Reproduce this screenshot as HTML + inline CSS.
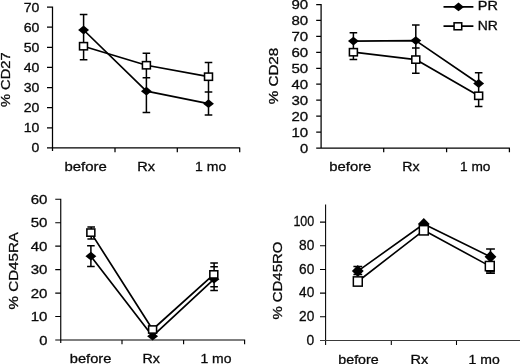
<!DOCTYPE html><html><head><meta charset="utf-8"><title>chart</title><style>html,body{margin:0;padding:0;background:#fff;overflow:hidden}svg{display:block;filter:grayscale(1)}text{font-family:"Liberation Sans",Arial,sans-serif;fill:#0a0a0a;stroke:#0a0a0a;stroke-width:0.3px}</style></head><body>
<svg width="520" height="364" viewBox="0 0 520 364">
<rect width="520" height="364" fill="#fff"/>
<path d="M52.5,6.509999999999986V150.95M52.5,147.95H240.2M47.00,147.95H52.5M47.00,127.83H52.5M47.00,107.71H52.5M47.00,87.59H52.5M47.00,67.47H52.5M47.00,47.35H52.5M47.00,27.23H52.5M47.00,7.11H52.5M115.00,147.95V152.25M177.30,147.95V152.25M239.70,147.95V152.25" stroke="#000" stroke-width="1.25" fill="none"/>
<text transform="translate(31.60,152.35) scale(1.0875,1)" font-size="12.9">0</text>
<text transform="translate(23.75,132.23) scale(1.0910,1)" font-size="12.9">10</text>
<text transform="translate(23.75,112.11) scale(1.0910,1)" font-size="12.9">20</text>
<text transform="translate(23.75,91.99) scale(1.0910,1)" font-size="12.9">30</text>
<text transform="translate(23.75,71.87) scale(1.0910,1)" font-size="12.9">40</text>
<text transform="translate(23.75,51.75) scale(1.0910,1)" font-size="12.9">50</text>
<text transform="translate(23.75,31.63) scale(1.0910,1)" font-size="12.9">60</text>
<text transform="translate(23.75,11.51) scale(1.0910,1)" font-size="12.9">70</text>
<text transform="translate(64.40,171.10) scale(1.1505,1)" font-size="13">before</text>
<text transform="translate(137.30,171.10) scale(1.1142,1)" font-size="13">Rx</text>
<text transform="translate(195.00,171.10) scale(1.0796,1)" font-size="13">1 mo</text>
<text transform="translate(10.20,107.00) rotate(-90) scale(1.0800,1)" font-size="13.6">% CD27</text>
<polyline fill="none" stroke="#000" stroke-width="1.7" stroke-linejoin="round" points="83.60,30.00 146.40,91.20 208.50,103.70"/>
<polyline fill="none" stroke="#000" stroke-width="1.7" stroke-linejoin="round" points="83.50,46.20 146.40,65.25 208.50,76.70"/>
<path d="M83.60,14.60V59.75M79.80,14.60H87.40M79.80,59.75H87.40" stroke="#000" stroke-width="1.5" fill="none"/>
<path d="M146.40,53.20V112.50M142.60,53.20H150.20M142.60,77.80H150.20M142.60,112.50H150.20" stroke="#000" stroke-width="1.5" fill="none"/>
<path d="M208.50,62.40V115.10M204.70,62.40H212.30M204.70,92.00H212.30M204.70,115.10H212.30" stroke="#000" stroke-width="1.5" fill="none"/>
<path d="M78.15,30.00L83.60,25.60L89.05,30.00L83.60,34.40Z" fill="#000"/>
<path d="M140.95,91.20L146.40,86.80L151.85,91.20L146.40,95.60Z" fill="#000"/>
<path d="M203.05,103.70L208.50,99.30L213.95,103.70L208.50,108.10Z" fill="#000"/>
<rect x="79.53" y="42.58" width="7.95" height="7.25" fill="#fff" stroke="#000" stroke-width="1.55"/>
<rect x="142.43" y="61.62" width="7.95" height="7.25" fill="#fff" stroke="#000" stroke-width="1.55"/>
<rect x="204.53" y="73.08" width="7.95" height="7.25" fill="#fff" stroke="#000" stroke-width="1.55"/>
<path d="M321.1,3.939999999999992V148.0M321.1,148.0H509.9M316.20,148.00H321.1M316.20,132.06H321.1M316.20,116.12H321.1M316.20,100.18H321.1M316.20,84.24H321.1M316.20,68.30H321.1M316.20,52.36H321.1M316.20,36.42H321.1M316.20,20.48H321.1M316.20,4.54H321.1M383.70,148.0V152.3M446.60,148.0V152.3M509.40,148.0V152.3" stroke="#000" stroke-width="1.25" fill="none"/>
<text transform="translate(300.00,152.50) scale(1.1433,1)" font-size="12.9">0</text>
<text transform="translate(291.50,136.56) scale(1.1642,1)" font-size="12.9">10</text>
<text transform="translate(291.50,120.62) scale(1.1642,1)" font-size="12.9">20</text>
<text transform="translate(291.50,104.68) scale(1.1642,1)" font-size="12.9">30</text>
<text transform="translate(291.50,88.74) scale(1.1642,1)" font-size="12.9">40</text>
<text transform="translate(291.50,72.80) scale(1.1642,1)" font-size="12.9">50</text>
<text transform="translate(291.50,56.86) scale(1.1642,1)" font-size="12.9">60</text>
<text transform="translate(291.50,40.92) scale(1.1642,1)" font-size="12.9">70</text>
<text transform="translate(291.50,24.98) scale(1.1642,1)" font-size="12.9">80</text>
<text transform="translate(291.50,9.04) scale(1.1642,1)" font-size="12.9">90</text>
<text transform="translate(329.30,171.00) scale(1.1423,1)" font-size="13">before</text>
<text transform="translate(402.20,171.00) scale(1.0890,1)" font-size="13">Rx</text>
<text transform="translate(460.00,171.00) scale(1.0554,1)" font-size="13">1 mo</text>
<text transform="translate(277.70,104.30) rotate(-90) scale(1.1176,1)" font-size="13.6">% CD28</text>
<polyline fill="none" stroke="#000" stroke-width="1.7" stroke-linejoin="round" points="353.40,41.10 415.80,40.60 478.65,83.50"/>
<polyline fill="none" stroke="#000" stroke-width="1.7" stroke-linejoin="round" points="353.40,52.20 415.80,59.60 478.65,95.80"/>
<path d="M353.40,32.70V59.60M349.60,32.70H357.20M349.60,59.60H357.20" stroke="#000" stroke-width="1.5" fill="none"/>
<path d="M415.80,25.00V73.30M412.00,25.00H419.60M412.00,48.10H419.60M412.00,73.30H419.60" stroke="#000" stroke-width="1.5" fill="none"/>
<path d="M478.65,72.70V106.50M474.85,72.70H482.45M474.85,106.50H482.45" stroke="#000" stroke-width="1.5" fill="none"/>
<path d="M347.95,41.10L353.40,36.70L358.85,41.10L353.40,45.50Z" fill="#000"/>
<path d="M410.35,40.60L415.80,36.20L421.25,40.60L415.80,45.00Z" fill="#000"/>
<path d="M473.20,83.50L478.65,79.10L484.10,83.50L478.65,87.90Z" fill="#000"/>
<rect x="349.42" y="48.58" width="7.95" height="7.25" fill="#fff" stroke="#000" stroke-width="1.55"/>
<rect x="411.82" y="55.98" width="7.95" height="7.25" fill="#fff" stroke="#000" stroke-width="1.55"/>
<rect x="474.67" y="92.17" width="7.95" height="7.25" fill="#fff" stroke="#000" stroke-width="1.55"/>
<path d="M443.5,6.9H473.4M443.5,26.2H473.4" stroke="#000" stroke-width="1.7"/>
<path d="M453.05,6.90L458.50,2.50L463.95,6.90L458.50,11.30Z" fill="#000"/>
<rect x="454.07" y="22.82" width="7.65" height="6.95" fill="#fff" stroke="#000" stroke-width="1.55"/>
<text transform="translate(477.80,10.15) scale(1.1765,1)" font-size="12.3">PR</text>
<text transform="translate(477.80,30.20) scale(1.1317,1)" font-size="12.3">NR</text>
<path d="M60.75,198.64000000000001V343.0M60.75,340.0H245.2M55.25,340.00H60.75M55.25,316.54H60.75M55.25,293.08H60.75M55.25,269.62H60.75M55.25,246.16H60.75M55.25,222.70H60.75M55.25,199.24H60.75M122.00,340.0V344.3M183.60,340.0V344.3M244.60,340.0V344.3" stroke="#000" stroke-width="1.15" fill="none"/>
<text transform="translate(39.20,344.50) scale(1.1433,1)" font-size="12.9">0</text>
<text transform="translate(30.70,321.04) scale(1.1642,1)" font-size="12.9">10</text>
<text transform="translate(30.70,297.58) scale(1.1642,1)" font-size="12.9">20</text>
<text transform="translate(30.70,274.12) scale(1.1642,1)" font-size="12.9">30</text>
<text transform="translate(30.70,250.66) scale(1.1642,1)" font-size="12.9">40</text>
<text transform="translate(30.70,227.20) scale(1.1642,1)" font-size="12.9">50</text>
<text transform="translate(30.70,203.74) scale(1.1642,1)" font-size="12.9">60</text>
<text transform="translate(69.80,363.30) scale(1.1260,1)" font-size="13">before</text>
<text transform="translate(142.50,363.30) scale(1.0953,1)" font-size="13">Rx</text>
<text transform="translate(200.40,363.30) scale(1.0762,1)" font-size="13">1 mo</text>
<text transform="translate(17.80,309.40) rotate(-90) scale(1.1131,1)" font-size="13.6">% CD45RA</text>
<polyline fill="none" stroke="#000" stroke-width="1.7" stroke-linejoin="round" points="90.90,256.20 152.60,336.20 214.00,279.20"/>
<polyline fill="none" stroke="#000" stroke-width="1.7" stroke-linejoin="round" points="90.85,232.60 152.60,329.50 213.80,274.40"/>
<path d="M91.20,226.90V238.90M87.40,226.90H95.00M87.40,238.90H95.00" stroke="#000" stroke-width="1.5" fill="none"/>
<path d="M90.90,245.80V266.40M87.10,245.80H94.70M87.10,266.40H94.70" stroke="#000" stroke-width="1.5" fill="none"/>
<path d="M214.10,263.00V290.50M210.30,263.00H217.90M210.30,266.75H217.90M210.30,286.80H217.90M210.30,290.50H217.90" stroke="#000" stroke-width="1.5" fill="none"/>
<path d="M85.45,256.20L90.90,251.80L96.35,256.20L90.90,260.60Z" fill="#000"/>
<path d="M147.15,336.20L152.60,331.80L158.05,336.20L152.60,340.60Z" fill="#000"/>
<path d="M208.55,279.20L214.00,274.80L219.45,279.20L214.00,283.60Z" fill="#000"/>
<rect x="86.88" y="228.97" width="7.95" height="7.25" fill="#fff" stroke="#000" stroke-width="1.55"/>
<rect x="148.62" y="325.88" width="7.95" height="7.25" fill="#fff" stroke="#000" stroke-width="1.55"/>
<rect x="209.83" y="270.77" width="7.95" height="7.25" fill="#fff" stroke="#000" stroke-width="1.55"/>
<path d="M325.6,204.5V344.9M320.00,340.50H325.6M320.00,316.82H325.6M320.00,293.14H325.6M320.00,269.46H325.6M320.00,245.78H325.6M320.00,222.10H325.6M391.30,340.5V344.9M456.50,340.5V344.9" stroke="#000" stroke-width="1.05" fill="none"/>
<path d="M320,340.5H521" stroke="#3a3a3a" stroke-width="1.0" fill="none"/>
<text transform="translate(306.60,344.80) scale(0.9486,1)" font-size="14.6">0</text>
<text transform="translate(299.10,321.12) scale(0.9362,1)" font-size="14.6">20</text>
<text transform="translate(299.10,297.44) scale(0.9362,1)" font-size="14.6">40</text>
<text transform="translate(299.10,273.76) scale(0.9362,1)" font-size="14.6">60</text>
<text transform="translate(299.10,250.08) scale(0.9362,1)" font-size="14.6">80</text>
<text transform="translate(293.40,226.40) scale(0.8582,1)" font-size="14.6">100</text>
<text transform="translate(338.30,363.80) scale(1.0962,1)" font-size="13">before</text>
<text transform="translate(410.40,363.80) scale(1.1205,1)" font-size="13">Rx</text>
<text transform="translate(468.50,363.80) scale(1.0796,1)" font-size="13">1 mo</text>
<text transform="translate(282.00,319.60) rotate(-90) scale(1.0979,1)" font-size="13.6">% CD45RO</text>
<polyline fill="none" stroke="#000" stroke-width="1.6" stroke-linejoin="round" points="357.80,271.10 423.80,224.00 490.50,256.80"/>
<polyline fill="none" stroke="#000" stroke-width="1.6" stroke-linejoin="round" points="357.80,281.50 423.80,230.30 489.80,266.10"/>
<path d="M357.80,266.40V274.60M353.40,266.40H362.20M353.40,274.60H362.20" stroke="#000" stroke-width="1.5" fill="none"/>
<path d="M490.50,249.10V273.20M486.10,249.10H494.90M486.10,273.20H494.90" stroke="#000" stroke-width="1.5" fill="none"/>
<path d="M490.50,271.80V271.80M486.10,271.80H494.90" stroke="#000" stroke-width="1.5" fill="none"/>
<path d="M351.90,271.10L357.80,265.10L363.70,271.10L357.80,277.10Z" fill="#000"/>
<path d="M417.90,224.00L423.80,218.00L429.70,224.00L423.80,230.00Z" fill="#000"/>
<path d="M484.60,256.80L490.50,250.80L496.40,256.80L490.50,262.80Z" fill="#000"/>
<rect x="353.35" y="276.85" width="8.90" height="9.30" fill="#fff" stroke="#000" stroke-width="1.5"/>
<rect x="419.35" y="225.65" width="8.90" height="9.30" fill="#fff" stroke="#000" stroke-width="1.5"/>
<rect x="485.35" y="261.45" width="8.90" height="9.30" fill="#fff" stroke="#000" stroke-width="1.5"/>
</svg></body></html>
